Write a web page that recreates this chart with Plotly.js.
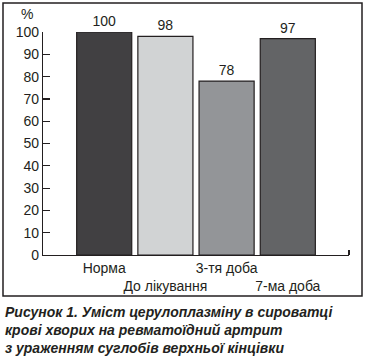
<!DOCTYPE html>
<html>
<head>
<meta charset="utf-8">
<script src="https://cdn.plot.ly/plotly-3.0.1.min.js"></script>
<style>html,body{margin:0;padding:0;background:#fff;}#chart{width:365px;height:357px;}</style>
</head>
<body>
<div id="chart"></div>
<script>
const categories = ["Норма", "До лікування", "3-тя доба", "7-ма доба"];
const values = [100, 98, 78, 97];
const barColors = ["#414042", "#d1d3d4", "#939598", "#636466"];
const yTickVals = [0, 10, 20, 30, 40, 50, 60, 70, 80, 90, 100];
const captionLines = [
  "Рисунок 1. Уміст церулоплазміну в сироватці",
  "крові хворих на ревматоїдний артрит",
  "з ураженням суглобів верхньої кінцівки"
];

const positions = categories.map((c, i) => i);
const tickText = categories.map((c, i) => (i % 2 === 1 ? "<br>" + c : c));

const font = {family: "Liberation Sans, Arial, sans-serif", size: 14, color: "#231f20"};

const trace = {
  type: "bar",
  x: positions,
  y: values,
  width: 0.9,
  marker: {color: barColors, line: {color: "#231f20", width: 1.2}},
  text: values.map(String),
  textposition: "outside",
  cliponaxis: false,
  textfont: font,
  hoverinfo: "none"
};

const W = 306, H = 223;
function px(x) { return (x - 43) / W; }
function py(y) { return (255 - y) / H; }

const layout = {
  width: 365, height: 357,
  margin: {l: 43, r: 16, t: 32, b: 102},
  paper_bgcolor: "#fff", plot_bgcolor: "#fff",
  showlegend: false,
  font: font,
  xaxis: {
    range: [-1, 4],
    tickmode: "array", tickvals: positions, ticktext: tickText,
    tickangle: 0, automargin: false,
    ticks: "", showgrid: false, zeroline: false,
    showline: true, linecolor: "#231f20", linewidth: 1.2,
    tickfont: font,
    minor: {tickmode: "array", tickvals: [4], ticks: "inside", ticklen: 5, tickcolor: "#231f20", tickwidth: 1.2, showgrid: false}
  },
  yaxis: {
    range: [0, 100],
    tickmode: "array", tickvals: yTickVals,
    ticks: "inside", ticklen: 7, tickcolor: "#231f20", tickwidth: 1.2,
    showgrid: false, zeroline: false,
    showline: true, linecolor: "#231f20", linewidth: 1.2,
    tickfont: font, ticklabelstandoff: 0
  },
  shapes: [{
    type: "rect", xref: "paper", yref: "paper",
    x0: px(3), x1: px(362), y0: py(296), y1: py(3),
    line: {color: "#231f20", width: 1.5}, fillcolor: "rgba(0,0,0,0)", layer: "below"
  }],
  annotations: [
    {text: "%", xref: "paper", yref: "paper", x: px(27), y: py(14), showarrow: false, font: font, xanchor: "center", yanchor: "middle"},
    {text: "<b><i>" + captionLines.join("<br>") + "</i></b>", xref: "paper", yref: "paper",
     x: px(3), y: py(302), xanchor: "left", yanchor: "top", align: "left", showarrow: false,
     font: {family: "Liberation Sans, Arial, sans-serif", size: 14, color: "#231f20"}}
  ]
};

Plotly.newPlot("chart", [trace], layout, {displayModeBar: false, staticPlot: true});
</script>
</body>
</html>
